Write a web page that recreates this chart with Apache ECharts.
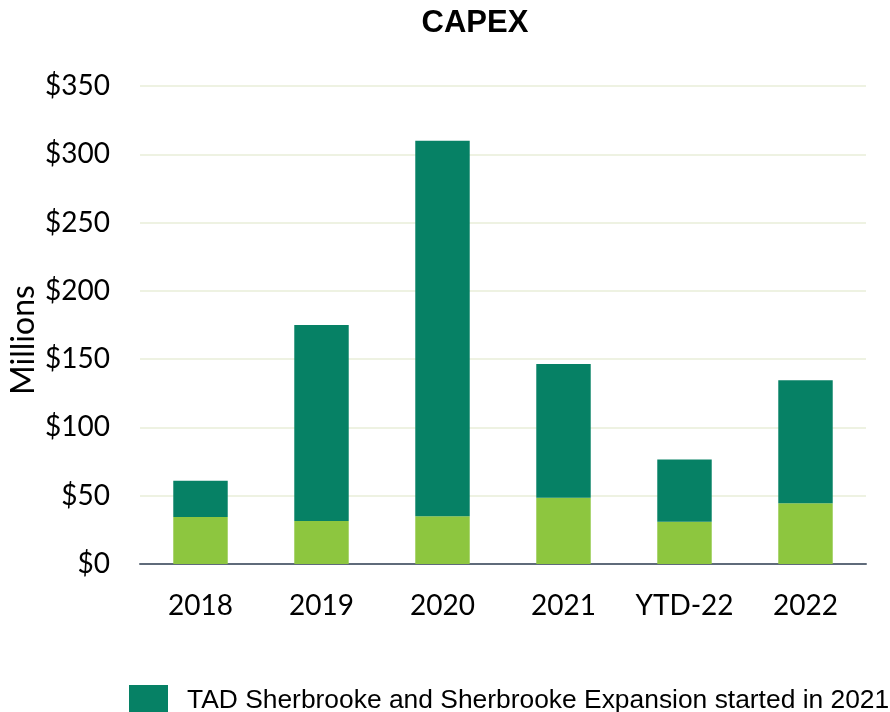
<!DOCTYPE html>
<html>
<head>
<meta charset="utf-8">
<script src="https://cdn.jsdelivr.net/npm/echarts@6/dist/echarts.min.js"></script>
<style>
  html, body { margin: 0; padding: 0; background: #fff; }
  #capex { width: 890px; height: 712px; }
</style>
</head>
<body>
<div id="capex"></div>
<script>
var years = ['2018', '2019', '2020', '2021', 'YTD-22', '2022'];
var baseCapex = [34.5, 31.5, 35, 48.5, 31, 44.5];
var sherbrookeCapex = [26.5, 143.5, 275, 98, 45.5, 90];
var yTicks = [0, 50, 100, 150, 200, 250, 300, 350];

var sherbrookeName = 'TAD Sherbrooke and Sherbrooke Expansion started in 2021';

var myChart = echarts.init(document.getElementById('capex'));
var option = {
    animation: false,
    title: {
        text: 'CAPEX',
        left: 470,
        textAlign: 'center',
        top: 3,
        textStyle: { fontFamily: 'Liberation Sans', fontWeight: 'bold', fontSize: 31, color: '#000' }
    },
    legend: {
        data: [sherbrookeName],
        left: 124,
        top: 680,
        itemWidth: 39,
        itemHeight: 32,
        icon: 'rect',
        textStyle: { fontFamily: 'Liberation Sans', fontSize: 26.4, color: '#000', padding: [0, 0, 0, 14] }
    },
    grid: {
        left: 140,
        right: 24,
        top: 86,
        bottom: 148,
        outerBoundsMode: 'none'
    },
    xAxis: {
        type: 'category',
        data: years,
        axisLine: { lineStyle: { color: '#5f6b7a', width: 2 } },
        axisTick: { show: false },
        axisLabel: { interval: 0, fontFamily: 'Lato', fontSize: 28, color: '#000', margin: 28 }
    },
    yAxis: {
        type: 'value',
        min: yTicks[0],
        max: yTicks[yTicks.length - 1],
        interval: 50,
        name: 'Millions',
        nameLocation: 'middle',
        nameMoveOverlap: false,
        nameGap: 100,
        nameTextStyle: { fontFamily: 'Lato', fontSize: 32, color: '#000', padding: [0, 30, 0, 0] },
        axisLine: { show: false },
        axisTick: { show: false },
        splitLine: { lineStyle: { color: '#eef2e2', width: 2 } },
        axisLabel: {
            fontFamily: 'Lato', fontSize: 28, color: '#000', margin: 30,
            formatter: function (v) { return '$' + v; }
        }
    },
    series: [
        {
            name: 'Base',
            type: 'bar',
            stack: 'capex',
            barWidth: '45%',
            itemStyle: { color: '#8dc63f' },
            data: baseCapex
        },
        {
            name: sherbrookeName,
            type: 'bar',
            stack: 'capex',
            itemStyle: { color: '#068165' },
            data: sherbrookeCapex
        }
    ]
};
myChart.setOption(option);
</script>
</body>
</html>
